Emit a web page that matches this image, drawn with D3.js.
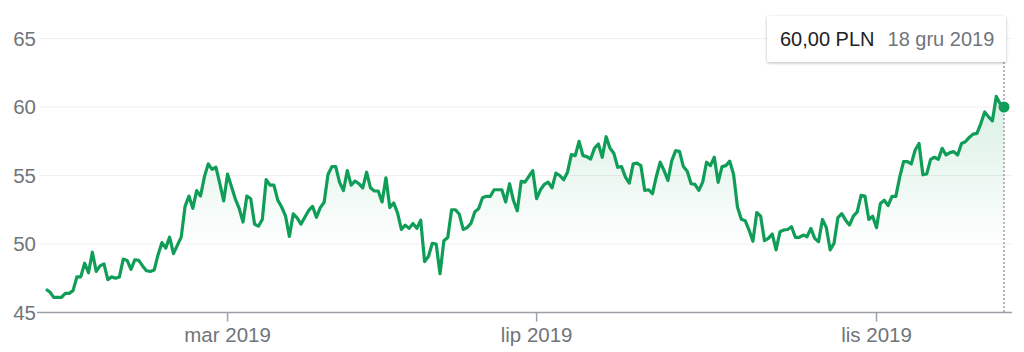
<!DOCTYPE html>
<html>
<head>
<meta charset="utf-8">
<script src="https://cdn.jsdelivr.net/npm/d3@7"></script>
<style>
  html, body { margin: 0; padding: 0; background: #fff; }
  svg { display: block; font-family: Arial, "Liberation Sans", sans-serif; }
</style>
</head>
<body>
<div id="chart"></div>
<script>
// closing prices, one per session (PLN)
const prices = [
  46.7, 46.5, 46.1, 46.1, 46.1, 46.4, 46.4, 46.6, 47.6, 47.6,
  48.6, 47.9, 49.4, 48.0, 48.4, 48.55, 47.4, 47.6, 47.5, 47.6,
  48.9, 48.8, 48.15, 48.85, 48.8, 48.4, 48.05, 48.0, 48.1, 49.2,
  50.1, 49.7, 50.5, 49.3, 49.9, 50.5, 52.75, 53.5, 52.6, 53.9,
  53.5, 54.9, 55.85, 55.45, 55.6, 54.4, 53.15, 55.1, 54.2, 53.3,
  52.6, 51.6, 53.5, 53.3, 51.45, 51.3, 51.8, 54.7, 54.3, 54.3,
  53.2, 52.7, 52.05, 50.55, 52.2, 51.9, 51.45, 51.95, 52.45, 52.75,
  51.95, 52.65, 53.05, 55.07, 55.65, 55.65, 54.5, 53.9, 55.36, 54.3,
  54.6, 54.4, 54.1, 55.24, 54.1, 53.87, 53.87, 53.07, 54.83, 52.66,
  53.0, 52.27, 51.06, 51.38, 51.14, 51.5, 51.14, 51.74, 48.72, 49.08,
  50.05, 50.0, 47.83, 50.24, 50.48, 52.5, 52.5, 52.17, 51.06, 51.2,
  51.5, 52.34, 52.58, 53.38, 53.48, 53.48, 53.96, 53.96, 53.96, 53.07,
  54.4, 53.19, 52.42, 54.57, 54.52, 54.93, 55.36, 53.31, 53.96, 54.35,
  54.52, 54.1, 55.17, 55.0, 54.69, 55.24, 56.52, 56.45, 57.49, 56.45,
  56.38, 56.2, 57.0, 57.3, 56.33, 57.83, 57.0, 56.62, 55.6, 55.65,
  54.88, 54.44, 55.85, 55.9, 55.72, 53.91, 53.96, 53.67, 54.93, 55.97,
  55.36, 54.64, 56.09, 56.81, 56.76, 55.65, 55.31, 54.4, 54.35, 53.91,
  54.52, 55.97, 55.72, 56.33, 54.5, 55.65, 55.72, 56.05, 55.07, 52.7,
  51.8, 51.7, 51.02, 50.2, 52.3, 52.03, 50.24, 50.41, 50.73, 49.57,
  50.89, 51.02, 51.06, 51.26, 50.48, 50.48, 50.65, 50.53, 51.14, 50.41,
  50.17, 51.79, 51.21, 49.57, 50.05, 51.93, 52.22, 51.74, 51.38, 52.03,
  52.34, 53.55, 53.5, 51.79, 52.03, 51.19, 52.95, 53.19, 52.8, 53.48,
  53.48, 54.88, 56.02, 56.02, 55.85, 56.86, 57.34, 55.05, 55.12, 56.18,
  56.33, 56.18, 56.98, 56.5, 56.67, 56.74, 56.5, 57.34, 57.46, 57.78,
  58.02, 58.07, 58.79, 59.64, 59.28, 58.99, 60.77, 60.24, 60.0
];

const yTicks = [45, 50, 55, 60, 65];
const xTickIdx = [47, 127, 215];
const xTickLabels = ['mar 2019', 'lip 2019', 'lis 2019'];
const tipPrice = '60,00 PLN';
const tipDate = '18 gru 2019';

const width = 1024, height = 352;
const green = '#0f9d58';

const svg = d3.select('#chart').append('svg')
  .attr('width', width).attr('height', height);

const x = d3.scaleLinear().domain([0, prices.length - 1]).range([46, 1004]);
const y = d3.scaleLinear().domain([45, 65]).range([312.5, 38.5]);

const defs = svg.append('defs');
const grad = defs.append('linearGradient')
  .attr('id', 'fillGrad')
  .attr('gradientUnits', 'userSpaceOnUse')
  .attr('x1', 0).attr('x2', 0)
  .attr('y1', y(61)).attr('y2', y(49.5));
grad.append('stop').attr('offset', 0).attr('stop-color', green).attr('stop-opacity', 0.16);
grad.append('stop').attr('offset', 1).attr('stop-color', green).attr('stop-opacity', 0);

const shadow = defs.append('filter').attr('id', 'shadow')
  .attr('x', -0.1).attr('y', -0.3).attr('width', 1.2).attr('height', 1.7);
shadow.append('feDropShadow')
  .attr('dx', 0).attr('dy', 1).attr('stdDeviation', 1.5)
  .attr('flood-color', '#000').attr('flood-opacity', 0.28);

// horizontal grid
svg.append('g')
  .selectAll('line')
  .data(yTicks.filter(d => d !== 45))
  .join('line')
  .attr('x1', 40).attr('x2', 1012)
  .attr('y1', d => y(d)).attr('y2', d => y(d))
  .attr('stroke', '#f0f0f0')
  .attr('stroke-width', 1);

// y labels
svg.append('g')
  .selectAll('text')
  .data(yTicks)
  .join('text')
  .attr('x', 36)
  .attr('y', d => y(d))
  .attr('dy', '0.36em')
  .attr('text-anchor', 'end')
  .attr('font-size', 20.5)
  .attr('fill', '#70757a')
  .text(d => d);

// area + line
const area = d3.area()
  .x((d, i) => x(i))
  .y0(y(45))
  .y1(d => y(d));
const line = d3.line()
  .x((d, i) => x(i))
  .y(d => y(d));

svg.append('path')
  .datum(prices)
  .attr('d', area)
  .attr('fill', 'url(#fillGrad)');

// baseline + ticks
svg.append('line')
  .attr('x1', 37).attr('x2', 1012)
  .attr('y1', y(45)).attr('y2', y(45))
  .attr('stroke', '#9aa0a6').attr('stroke-width', 1.5);

svg.append('g')
  .selectAll('line')
  .data(xTickIdx)
  .join('line')
  .attr('x1', d => x(d)).attr('x2', d => x(d))
  .attr('y1', y(45)).attr('y2', y(45) + 9)
  .attr('stroke', '#9aa0a6').attr('stroke-width', 1.5);

svg.append('g')
  .selectAll('text')
  .data(xTickIdx)
  .join('text')
  .attr('x', d => x(d))
  .attr('y', 342)
  .attr('text-anchor', 'middle')
  .attr('font-size', 20.5)
  .attr('fill', '#70757a')
  .text((d, i) => xTickLabels[i]);

svg.append('path')
  .datum(prices)
  .attr('d', line)
  .attr('fill', 'none')
  .attr('stroke', green)
  .attr('stroke-width', 3.2)
  .attr('stroke-linejoin', 'round');

// hover marker
const last = prices.length - 1;
svg.append('line')
  .attr('x1', x(last)).attr('x2', x(last))
  .attr('y1', 62).attr('y2', y(45))
  .attr('stroke', '#9e9e9e')
  .attr('stroke-width', 1.5)
  .attr('stroke-dasharray', '2,2');

svg.append('circle')
  .attr('cx', x(last)).attr('cy', y(prices[last]))
  .attr('r', 5.5)
  .attr('fill', green);

// tooltip
const tip = svg.append('g').attr('transform', 'translate(767,16)');
tip.append('rect')
  .attr('width', 239).attr('height', 46)
  .attr('rx', 2)
  .attr('fill', '#fff')
  .attr('filter', 'url(#shadow)');
const tt = tip.append('text').attr('x', 13).attr('y', 30).attr('font-size', 20);
tt.append('tspan').attr('fill', '#202124').text(tipPrice);
tt.append('tspan').attr('fill', '#70757a').attr('dx', 13).text(tipDate);
</script>
</body>
</html>
